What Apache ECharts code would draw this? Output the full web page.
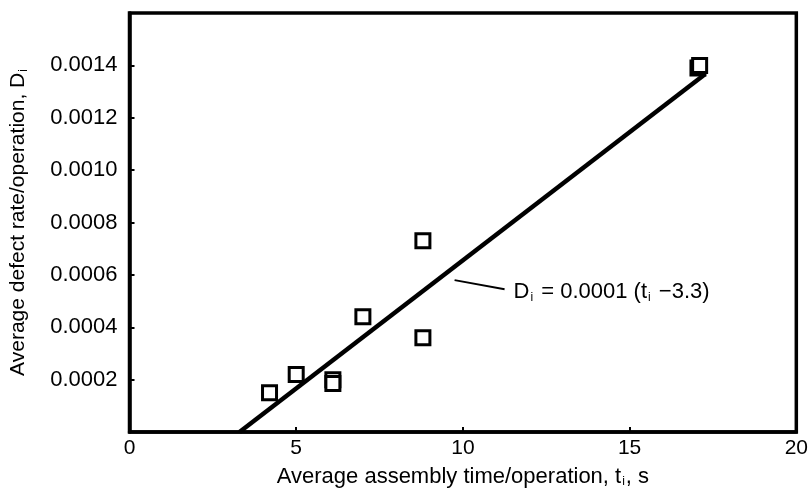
<!DOCTYPE html>
<html lang="en">
<head>
<meta charset="UTF-8">
<title>defect rate vs assembly time</title>
<script src="https://cdn.jsdelivr.net/npm/echarts@6/dist/echarts.min.js"></script>
</head>
<body style="margin:0;background:#fff;">
<div id="chart" style="width:811px;height:493px;"></div>
<script type="text/javascript">
    // measured points: assembly time (s), defect rate
    var timeVals = [4.2, 5.0, 6.1, 6.1, 7.0, 8.8, 8.8, 17.05, 17.1];
    var defectVals = [0.00015, 0.00022, 0.0002, 0.000185, 0.00044, 0.00073, 0.00036, 0.00139, 0.0014];
    // fitted line endpoints  D = 0.0001 (t - 3.3)
    var fitTime = [3.3, 17.25];
    var fitDefect = [0, 0.001365];
    var xTicks = [0, 5, 10, 15, 20];
    var yTicks = [0.0002, 0.0004, 0.0006, 0.0008, 0.0010, 0.0012, 0.0014];

    var font = 'Liberation Sans, Arial, sans-serif';
    var chart = echarts.init(document.getElementById('chart'));

    var points = timeVals.map(function (t, i) { return [t, defectVals[i]]; });
    var fitLine = fitTime.map(function (t, i) { return [t, fitDefect[i]]; });

    var option = {
        animation: false,
        backgroundColor: '#fff',
        grid: {
            left: 128, right: 14, top: 13, bottom: 61,
            show: true, borderColor: '#000', borderWidth: 3.5, backgroundColor: 'transparent'
        },
        xAxis: {
            type: 'value', min: 0, max: 20, interval: 5,
            axisLine: { lineStyle: { color: '#000', width: 3.5 } },
            axisTick: { inside: true, length: 5, lineStyle: { color: '#000', width: 2 } },
            splitLine: { show: false },
            axisLabel: {
                color: '#000', fontFamily: font, fontSize: 21, margin: 6,
                formatter: function (v) { return xTicks.indexOf(v) >= 0 ? String(v) : ''; }
            },
            name: '{n|Average assembly time/operation, t}{s|i}{n|, s}',
            nameLocation: 'middle', nameGap: 34,
            nameTextStyle: {
                rich: {
                    n: { fontFamily: font, fontSize: 22, color: '#000' },
                    s: { fontFamily: font, fontSize: 12, color: '#000', padding: [10, 1, 0, 1] }
                }
            }
        },
        yAxis: {
            type: 'value', min: 0, max: 0.0016, interval: 0.0002,
            axisLine: { lineStyle: { color: '#000', width: 3.5 } },
            axisTick: { inside: true, length: 5, lineStyle: { color: '#000', width: 2 } },
            splitLine: { show: false },
            axisLabel: {
                color: '#000', fontFamily: font, fontSize: 22, margin: 12,
                formatter: function (v) {
                    for (var i = 0; i < yTicks.length; i++) {
                        if (Math.abs(v - yTicks[i]) < 1e-9) return yTicks[i].toFixed(4);
                    }
                    return '';
                }
            },
            name: '{n|Average defect rate/operation, D}{s|i}',
            nameLocation: 'middle', nameGap: 100,
            nameTextStyle: {
                rich: {
                    n: { fontFamily: font, fontSize: 21, color: '#000' },
                    s: { fontFamily: font, fontSize: 12, color: '#000', padding: [10, 0, 0, 1] }
                }
            }
        },
        series: [
            {
                name: 'fit', type: 'line', data: fitLine, symbol: 'none',
                lineStyle: { color: '#000', width: 4.5 }, z: 2
            },
            {
                name: 'data', type: 'scatter', data: points,
                symbol: 'rect', symbolSize: 14,
                itemStyle: { color: '#fff', borderColor: '#000', borderWidth: 3, opacity: 1 },
                z: 3
            }
        ]
    };
    chart.setOption(option);

    // equation label with leader line, placed from data coordinates
    var a = chart.convertToPixel({ gridIndex: 0 }, [9.75, 0.00058]);
    var b = chart.convertToPixel({ gridIndex: 0 }, [11.25, 0.000545]);
    chart.setOption({
        graphic: [
            {
                type: 'line', z: 10,
                shape: { x1: a[0], y1: a[1], x2: b[0], y2: b[1] },
                style: { stroke: '#000', lineWidth: 2 }
            },
            {
                type: 'text', z: 10, x: b[0] + 9, y: b[1] + 3,
                style: {
                    text: '{n|D}{s|i}{n| = 0.0001 (t}{s|i}{n| \u22123.3)}',
                    verticalAlign: 'middle',
                    rich: {
                        n: { fontFamily: font, fontSize: 22, fill: '#000' },
                        s: { fontFamily: font, fontSize: 12, fill: '#000', padding: [10, 2, 0, 1] }
                    }
                }
            }
        ]
    });
</script>
</body>
</html>
